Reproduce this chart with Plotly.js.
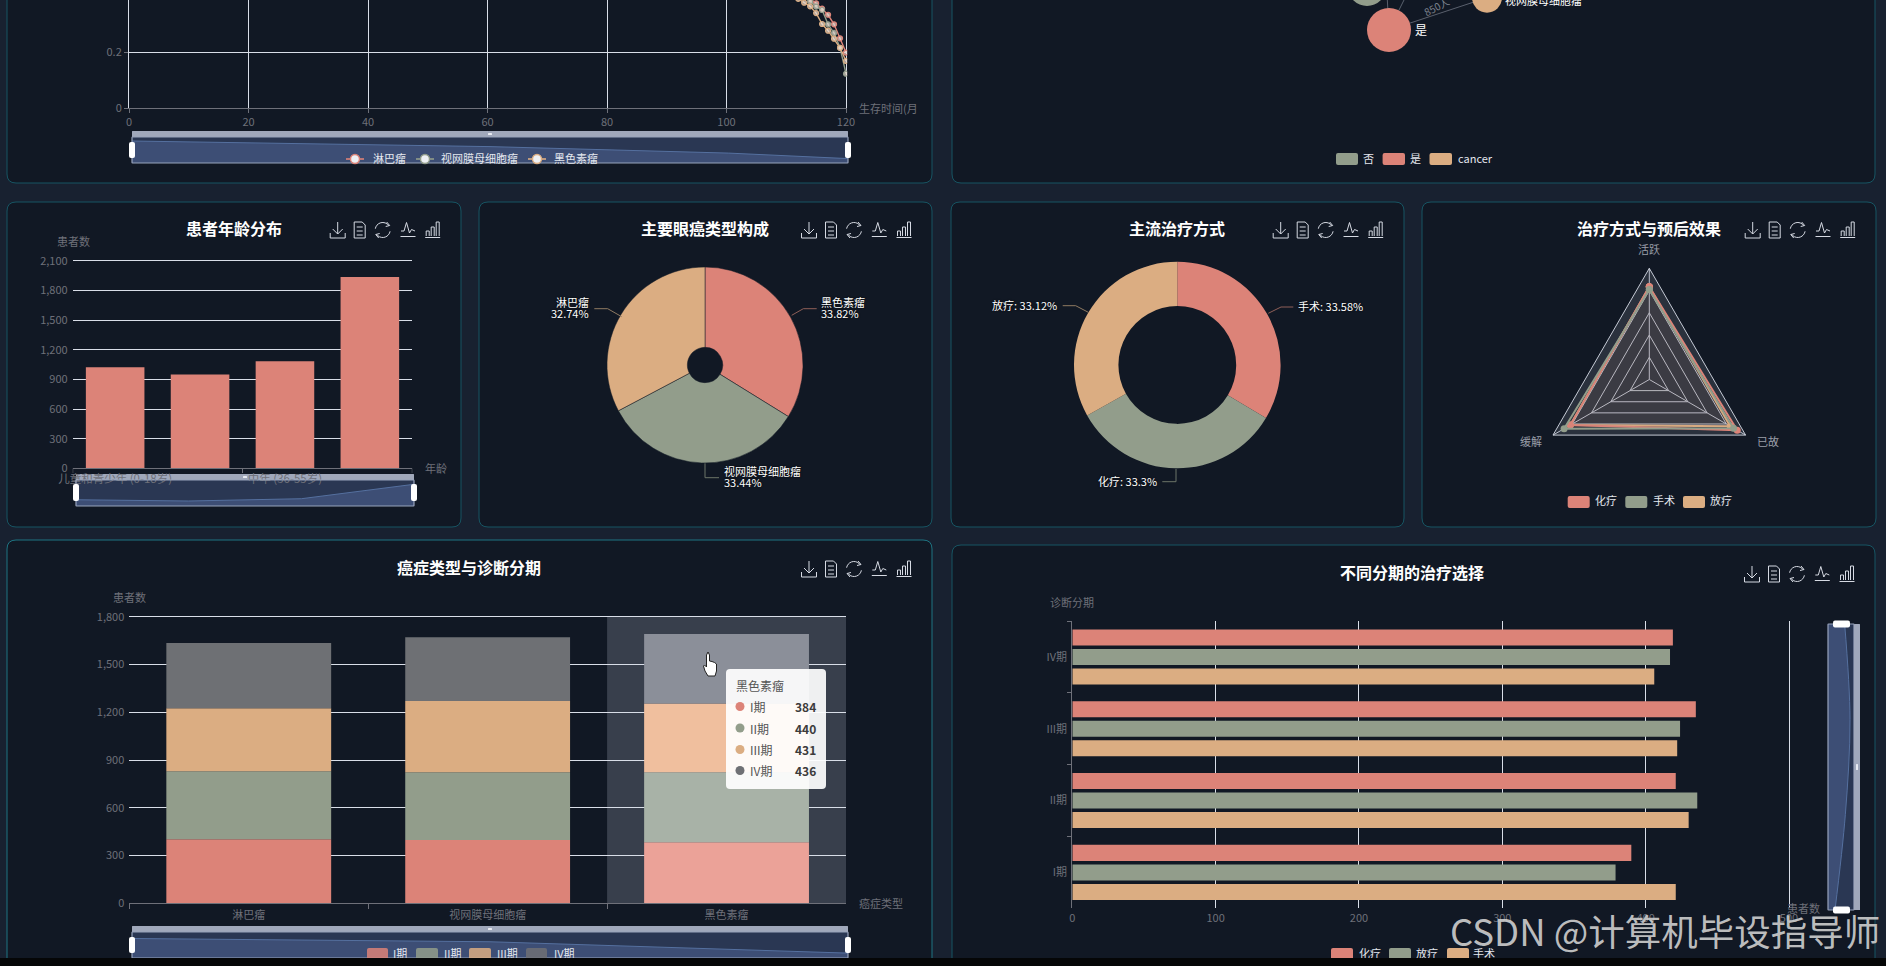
<!DOCTYPE html>
<html><head><meta charset="utf-8">
<script src="https://cdn.plot.ly/plotly-3.0.1.min.js"></script>
<style>html,body{margin:0;padding:0;background:#182130;overflow:hidden}
#g{position:absolute;left:0;top:0;width:1886px;height:966px}
#strip{position:absolute;left:0;top:958px;width:1886px;height:8px;background:#050607}</style>
</head><body><div id="g"></div><div id="strip"></div>
<script>
// ---------- data ----------
const survivalMonths=[112,113,114,115,116,117,118,119,120];
const survivalLymphoma=[0.43,0.41,0.39,0.374,0.355,0.333,0.299,0.249,0.198];
const survivalRetino=[0.42,0.40,0.38,0.362,0.35,0.299,0.268,0.215,0.1225];
const survivalMelanoma=[0.39,0.376,0.363,0.339,0.30,0.276,0.2475,0.215,0.168];
const survivalOverviewX=[0,60,100,110,120];
const survivalOverviewY=[1.0,0.745,0.45,0.33,0.2];

const ageCats=['儿童和青少年 (0-18岁)','青年 (19-35岁)','中年 (36-55岁)','老年 (56岁以上)'];
const ageVals=[1023,949,1084,1938];

const cancerCats=['黑色素瘤','视网膜母细胞瘤','淋巴瘤'];
const cancerPct=[33.82,33.44,32.74];
const treatCats=['手术','化疗','放疗'];
const treatPct=[33.58,33.3,33.12];

const radarAxes=['活跃','已故','缓解'];
const radarChemo=[0.835,0.913,0.82];
const radarSurgery=[0.81,0.875,0.885];
const radarRadio=[0.835,0.84,0.82];

const stageCats=['淋巴瘤','视网膜母细胞瘤','黑色素瘤'];
const stageI=[402,398,384];
const stageII=[427,425,440];
const stageIII=[397,448,431];
const stageIV=[409,400,436];

const choiceCats=['I期','II期','III期','IV期'];
const choiceChemo=[390,421,435,419];
const choiceRadio=[379,436,424,417];
const choiceSurgery=[421,430,422,406];

const nodeNames=['否','是','视网膜母细胞瘤'];
const nodeX=[1367,1389,1487];
const nodeY=[-13,30,-2.3];
const nodeSize=[38,44,30];

// ---------- styles ----------
const RED='#DC8378',GRN='#929D8B',ORG='#DBAD82',GRY='#6E7074';
const TICK='#6E7079',GRID='#D9DEE8',PANEL='#111824',EDGE='#175563';
const FONT='"Noto Sans CJK SC","Noto Sans",sans-serif';
const W=1886,H=966;
const fx=x=>x/W, fy=y=>1-y/H;
const pt=(x,y)=>fx(x)+' '+fy(y);
const shapes=[],annotations=[],traces=[];
const layout={width:W,height:H,margin:{l:0,r:0,t:0,b:0},paper_bgcolor:'#182130',plot_bgcolor:'rgba(0,0,0,0)',
  font:{family:FONT,size:11,color:TICK},showlegend:false,hovermode:false,barmode:'overlay',shapes,annotations};

function addAxes(n,x0,x1,y0,y1,xo,yo){
  const s=n===1?'':n;
  layout['xaxis'+s]=Object.assign({domain:[fx(x0),fx(x1)],anchor:'y'+s,fixedrange:true,zeroline:false,showgrid:false},xo);
  layout['yaxis'+s]=Object.assign({domain:[fy(y1),fy(y0)],anchor:'x'+s,fixedrange:true,zeroline:false,showgrid:false},yo);
}
const hidden=r=>({visible:false,range:r});
function rrect(x0,y0,x1,y1,r,o){
  const d=`M${pt(x0+r,y0)} L${pt(x1-r,y0)} Q${pt(x1,y0)} ${pt(x1,y0+r)} L${pt(x1,y1-r)} Q${pt(x1,y1)} ${pt(x1-r,y1)} L${pt(x0+r,y1)} Q${pt(x0,y1)} ${pt(x0,y1-r)} L${pt(x0,y0+r)} Q${pt(x0,y0)} ${pt(x0+r,y0)} Z`;
  shapes.push(Object.assign({type:'path',xref:'paper',yref:'paper',path:d,layer:'below',line:{width:0}},o));
}
function ann(x,y,text,o,font){
  annotations.push(Object.assign({xref:'paper',yref:'paper',x:fx(x),y:fy(y),text,showarrow:false,xanchor:'center',yanchor:'middle',borderpad:0,
    font:Object.assign({size:11,color:TICK,family:FONT},font||{})},o||{}));
}
function poly(points,color,width,layer,close){
  const d=points.map((p,i)=>(i?'L':'M')+pt(p[0],p[1])).join(' ')+(close?' Z':'');
  shapes.push({type:'path',xref:'paper',yref:'paper',path:d,layer:layer||'above',line:{color,width:width||1}});
}
function card(x0,y0,x1,y1,edge){rrect(x0,y0,x1,y1,9,{fillcolor:PANEL,line:{color:edge||EDGE,width:1}});}
function title(x,y,t){ann(x,y,'<b>'+t+'</b>',{}, {size:16,color:'#FFFFFF'});}
function toolbox(right,y){
  const col='#D6DAE3';
  const at=(cx,list)=>list.forEach(l=>poly(l.map(p=>[cx+p[0],y+p[1]]),col,1));
  at(right-123,[[[0,-8],[0,4]],[[-5,-1],[0,4],[5,-1]],[[-7.5,3],[-7.5,8],[7.5,8],[7.5,3]]]);
  at(right-101,[[[-5.5,-8],[2.5,-8],[5.5,-5],[5.5,8],[-5.5,8],[-5.5,-8]],[[-3,-3],[3,-3]],[[-3,1],[3,1]],[[-3,5],[3,5]]]);
  const arc=(a,b)=>{const o=[];for(let t=a;t<=b;t+=15){o.push([7.5*Math.cos(t*Math.PI/180),7.5*Math.sin(t*Math.PI/180)]);}return o;};
  at(right-78,[arc(190,330),arc(10,150),[[4,-8],[7,-4.5],[3,-3.5]],[[-4,8],[-7,4.5],[-3,3.5]]]);
  at(right-52.7,[[[-7,1],[-4,1],[-1.5,-7.5],[1.5,3],[3.5,-0.5],[7,1]],[[-7.5,6.5],[7.5,6.5]]]);
  at(right-28,[[[-6.5,6],[-6.5,1],[-3.5,1],[-3.5,6]],[[-1.5,6],[-1.5,-3],[1.5,-3],[1.5,6]],[[3.5,6],[3.5,-8],[6.5,-8],[6.5,6]],[[-7.5,7.5],[7.5,7.5]]]);
}
function hSlider(x0,x1,barTop,barBot,boxBot,hTop,hBot){
  rrect(x0,barBot,x1,boxBot,0.5,{fillcolor:'#2A3753'});
  rrect(x0,barTop,x1,barBot,0.5,{fillcolor:'#A0A8BB',layer:'below'});
  rrect(x0,barBot,x1,boxBot,0.5,{fillcolor:'rgba(0,0,0,0)',line:{color:'#98A3BC',width:1.2},layer:'above'});
  const c=(x0+x1)/2;
  rrect(c-2,barTop+2,c+2,barBot-2,0.5,{fillcolor:'#E8EBF2',layer:'above'});
  rrect(x0-3,hTop,x0+3,hBot,2,{fillcolor:'#FFFFFF',layer:'above'});
  rrect(x1-3,hTop,x1+3,hBot,2,{fillcolor:'#FFFFFF',layer:'above'});
}
function swatch(x0,x1,y0,y1,color,op){rrect(x0,y0,x1,y1,2,{fillcolor:color,layer:'above',opacity:op||1});}
function legendText(x,y,t){ann(x,y-1,t,{xanchor:'left'},{color:'#E4E7EE',size:11});}

// ---------- panels ----------
card(7,-20,932,183); card(952,-20,1875,183);
card(7,202,461,527); card(479,202,932,527); card(951,202,1404,527); card(1422,202,1876,527);
card(7,540,932,990,'#1E7482'); card(952,545,1875,990);

// ---------- survival ----------
addAxes(1,129,847.2,0,108,
 {range:[0,120.2],dtick:20,showgrid:true,gridcolor:GRID,gridwidth:1,showline:true,linecolor:TICK,ticks:'outside',ticklen:4,tickcolor:TICK,tickfont:{size:11,color:TICK}},
 {range:[0,108/280],tickvals:[0,0.2],ticktext:['0','0.2'],showgrid:true,gridcolor:GRID,showline:true,linecolor:GRID,ticks:'outside',ticklen:4,tickcolor:TICK,tickfont:{size:11,color:TICK}});
[[survivalLymphoma,RED,'淋巴瘤'],[survivalRetino,GRN,'视网膜母细胞瘤'],[survivalMelanoma,ORG,'黑色素瘤']].forEach(s=>{
  traces.push({type:'scatter',mode:'lines+markers',x:survivalMonths,y:s[0],name:s[2],xaxis:'x',yaxis:'y',
    line:{color:s[1],width:1.4},marker:{size:5,color:'rgba(240,225,215,0.7)',line:{color:s[1],width:1.2}}});
});
ann(858,108,'生存时间(月',{xanchor:'left'});
hSlider(132,848,131,137,163,142,158);
addAxes(2,132,848,137,163,hidden([0,120]),hidden([0,26/22]));
traces.push({type:'scatter',mode:'lines',x:survivalOverviewX,y:survivalOverviewY,xaxis:'x2',yaxis:'y2',fill:'tozeroy',fillcolor:'#3D4E75',line:{color:'#55709F',width:1}});
[[355,RED,371.5,'淋巴瘤'],[425,GRN,440,'视网膜母细胞瘤'],[537,ORG,553,'黑色素瘤']].forEach(l=>{
  poly([[l[0]-9,159],[l[0]+9,159]],l[1],1.6);
  shapes.push({type:'circle',xref:'paper',yref:'paper',x0:fx(l[0]-4.5),x1:fx(l[0]+4.5),y0:fy(159+4.5),y1:fy(159-4.5),fillcolor:'#EEF0F4',line:{color:l[1],width:1.4},layer:'above'});
  legendText(l[2],159,l[3]);
});

// ---------- graph (top right) ----------
addAxes(3,952,1875,0,183,hidden([952,1875]),hidden([183,0]));
const linkX=[nodeX[1],nodeX[2],null,nodeX[1],1384,null,nodeX[1],1424];
const linkY=[nodeY[1],nodeY[2],null,nodeY[1],-60,null,nodeY[1],-40];
traces.push({type:'scatter',mode:'lines',x:linkX,y:linkY,xaxis:'x3',yaxis:'y3',line:{color:'#5A606D',width:1}});
traces.push({type:'scatter',mode:'markers',x:nodeX,y:nodeY,text:nodeNames,xaxis:'x3',yaxis:'y3',
  marker:{size:nodeSize,color:[GRN,RED,ORG],opacity:1,line:{width:0}}});
ann(1421,29,nodeNames[1],{}, {color:'#FFFFFF',size:12});
ann(1503.5,0,nodeNames[2],{xanchor:'left'},{color:'#FFFFFF'});
ann(1436,6,'850人',{textangle:-28},{size:10,color:'#7C818C'});
[[1336,1358,GRN,1362,'否'],[1382.6,1405,RED,1409,'是'],[1429.5,1452,ORG,1457,'cancer']].forEach(l=>{
  swatch(l[0],l[1],153,165,l[2]); legendText(l[3],159,l[4]);
});

// ---------- age ----------
addAxes(4,72.7,412.3,259.8,468.3,
 {type:'category',categoryorder:'array',categoryarray:ageCats,range:[-0.5,3.5],tickvals:[ageCats[0],ageCats[2]],ticks:'',showline:true,linecolor:TICK,tickfont:{size:11.5,color:TICK}},
 {range:[0,2112],dtick:300,tickformat:',',showgrid:true,gridcolor:GRID,ticks:'',ticklabelstandoff:4,tickfont:{size:11,color:TICK}});
traces.push({type:'bar',x:ageCats,y:ageVals,width:0.69,xaxis:'x4',yaxis:'y4',marker:{color:RED,line:{width:0}},opacity:1});
[-0.5,1.5,3.5].forEach(v=>shapes.push({type:'line',xref:'x4',yref:'paper',x0:v,x1:v,y0:fy(468.3),y1:fy(473),line:{color:TICK,width:1},layer:'above'}));
title(233.5,228,'患者年龄分布'); toolbox(460.7,230);
ann(73,241,'患者数'); ann(436,467.7,'年龄');
hSlider(76,414,474,480,506,484,501);
addAxes(5,76,414,480,506,hidden([0,3]),hidden([653,2192]));
traces.push({type:'scatter',mode:'lines',x:[0,1,2,3],y:ageVals,xaxis:'x5',yaxis:'y5',fill:'tozeroy',fillcolor:'#3D4E75',line:{color:'#55709F',width:1}});

// ---------- cancer pie ----------
traces.push({type:'pie',labels:cancerCats,values:cancerPct,sort:false,direction:'clockwise',rotation:0,hole:0.18,textinfo:'none',
  domain:{x:[fx(705-98),fx(705+98)],y:[fy(365+98),fy(365-98)]},marker:{colors:[RED,GRN,ORG],line:{color:PANEL,width:0.5}}});
title(705,228,'主要眼癌类型构成'); toolbox(932,230);
const halo={color:'#FFFFFF',size:11,shadow:'0 0 2px #000'};
ann(820,301.7,cancerCats[0],{xanchor:'left'},halo); ann(820,313,cancerPct[0]+'%',{xanchor:'left'},halo);
ann(723.3,471,cancerCats[1],{xanchor:'left'},halo); ann(723.3,482,cancerPct[1]+'%',{xanchor:'left'},halo);
ann(590,301.7,cancerCats[2],{xanchor:'right'},halo); ann(590,313,cancerPct[2]+'%',{xanchor:'right'},halo);
poly([[816.7,308.7],[803.3,308.7],[791.7,315.3]],'#8F5F58');
poly([[705,463.3],[705,477.7],[719,477.7]],'#6C7468');
poly([[594.3,308.7],[607.7,308.7],[621.7,316.7]],'#8F7A62');

// ---------- treatment donut ----------
traces.push({type:'pie',labels:treatCats,values:treatPct,sort:false,direction:'clockwise',rotation:0,hole:0.57,textinfo:'none',
  domain:{x:[fx(1177.3-103.3),fx(1177.3+103.3)],y:[fy(365+103.3),fy(365-103.3)]},marker:{colors:[RED,GRN,ORG],line:{width:0}}});
title(1177,228,'主流治疗方式'); toolbox(1403.7,230);
ann(1296.7,305.7,treatCats[0]+': '+treatPct[0]+'%',{xanchor:'left'},halo);
ann(1158.3,481,treatCats[1]+': '+treatPct[1]+'%',{xanchor:'right'},halo);
ann(1058.3,305,treatCats[2]+': '+treatPct[2]+'%',{xanchor:'right'},halo);
poly([[1293.3,307],[1281,307],[1268.3,313.3]],'#8F5F58');
poly([[1176,469],[1176,481.7],[1162.3,481.7]],'#6C7468');
poly([[1062.7,305.7],[1075.7,305.7],[1088.3,312.3]],'#8F7A62');

// ---------- radar ----------
layout.polar={domain:{x:[fx(1649.3-111.2),fx(1649.3+111.2)],y:[fy(379.5+111.2),fy(379.5-111.2)]},gridshape:'linear',bgcolor:'rgba(200,205,220,0.14)',
  radialaxis:{range:[0,1],dtick:0.2,showticklabels:false,ticks:'',showline:false,gridcolor:'#B9BECB',gridwidth:1},
  angularaxis:{direction:'clockwise',rotation:90,categoryorder:'array',categoryarray:radarAxes,ticks:'',showticklabels:false,gridcolor:'#B9BECB',linecolor:'#C6CBD6'}};
[[radarRadio,ORG,'rgba(219,173,130,0.04)','放疗'],[radarChemo,RED,'rgba(220,131,120,0.04)','化疗'],[radarSurgery,GRN,'rgba(146,157,139,0.04)','手术']].forEach(s=>{
  traces.push({type:'scatterpolar',mode:'lines+markers',name:s[3],theta:radarAxes.concat(radarAxes[0]),r:s[0].concat(s[0][0]),fill:'toself',fillcolor:s[2],
    line:{color:s[1],width:2},marker:{size:7,color:s[1]}});
});
ann(1649.3,249,radarAxes[0],{}, {color:'#9A9EA8'});
ann(1768.3,440.7,radarAxes[1],{}, {color:'#9A9EA8'});
ann(1531,440.7,radarAxes[2],{}, {color:'#9A9EA8'});
title(1649,228,'治疗方式与预后效果'); toolbox(1875.7,230);
[[1567.7,1589.7,RED,1594,'化疗'],[1625.3,1647.3,GRN,1652,'手术'],[1683,1705,ORG,1709,'放疗']].forEach(l=>{
  swatch(l[0],l[1],496,508,l[2]); legendText(l[3],501,l[4]);
});

// ---------- stage stack ----------
addAxes(6,129.3,846,615.5,903.3,
 {type:'category',categoryorder:'array',categoryarray:stageCats,range:[-0.5,2.5],tickson:'boundaries',ticks:'outside',ticklen:5,tickcolor:TICK,showline:true,linecolor:TICK,ticklabelstandoff:1,tickfont:{size:11,color:TICK}},
 {range:[0,1808],dtick:300,tickformat:',',showgrid:true,gridcolor:GRID,ticks:'',ticklabelstandoff:4,tickfont:{size:11,color:TICK}});
shapes.push({type:'rect',xref:'x6',yref:'paper',x0:1.5,x1:2.5,y0:fy(903.3),y1:fy(616.7),fillcolor:'rgba(150,155,170,0.30)',line:{width:0},layer:'below'});
const stageSeries=[['I期',stageI,RED,'#EBA298'],['II期',stageII,GRN,'#A8B2A7'],['III期',stageIII,ORG,'#F0BF9E'],['IV期',stageIV,GRY,'#8B8F99']];
let stageBase=stageCats.map(()=>0);
stageSeries.forEach(s=>{
  traces.push({type:'bar',name:s[0],x:stageCats,y:s[1],base:stageBase.slice(),width:0.69,xaxis:'x6',yaxis:'y6',opacity:1,
    marker:{color:[s[2],s[2],s[3]],line:{width:0}}});
  stageBase=stageBase.map((b,i)=>b+s[1][i]);
});
title(469,567,'癌症类型与诊断分期'); toolbox(932,569);
ann(129,597,'患者数'); ann(858,903,'癌症类型',{xanchor:'left'});
hSlider(132,848,926,932,958,937,953);
addAxes(7,132,848,932,958,hidden([0,2]),hidden([378,410]));
traces.push({type:'scatter',mode:'lines',x:[0,1,2],y:stageI,xaxis:'x7',yaxis:'y7',fill:'tozeroy',fillcolor:'#3D4E75',line:{color:'#55709F',width:1}});
[[367,388,RED,392,'I期'],[416,438,GRN,443,'II期'],[469,491,ORG,496,'III期'],[526,547,GRY,553,'IV期']].forEach(l=>{
  swatch(l[0],l[1],948,960,l[2],0.85); legendText(l[3],954,l[4]);
});
// tooltip
rrect(726,669,826,789,4,{fillcolor:'rgba(255,255,255,0.92)',layer:'above'});
ann(735,685,stageCats[2],{xanchor:'left'},{size:12,color:'#555'});
stageSeries.forEach((s,i)=>{
  const y=[706.5,728,749.5,770.5][i];
  shapes.push({type:'circle',xref:'paper',yref:'paper',x0:fx(735.5),x1:fx(744.5),y0:fy(y+4.5),y1:fy(y-4.5),fillcolor:s[2],line:{width:0},layer:'above'});
  ann(749,y,s[0],{xanchor:'left'},{size:12,color:'#555'});
  ann(817,y,'<b>'+s[1][2]+'</b>',{xanchor:'right'},{size:12,color:'#3C3C3C'});
});
// cursor
const hand=[[706.5,655],[708,652],[709.5,655],[709.5,661],[712,661.5],[714.5,662.5],[716.5,664],[716.5,671],[715,676],[708,676],[705,671],[703.5,666],[704.5,665],[706.5,667]];
shapes.push({type:'path',xref:'paper',yref:'paper',layer:'above',fillcolor:'#FFFFFF',line:{color:'#222',width:1},
  path:hand.map((p,i)=>(i?'L':'M')+pt(p[0],p[1])).join(' ')+' Z'});

// ---------- treatment by stage ----------
addAxes(8,1072.3,1790.2,621,908.3,
 {range:[0,500.84],dtick:100,showgrid:true,gridcolor:GRID,ticks:'',ticklabelstandoff:2,tickfont:{size:11,color:TICK}},
 {type:'category',categoryorder:'array',categoryarray:choiceCats,range:[-0.5,3.5],tickson:'boundaries',ticks:'outside',ticklen:4,tickcolor:TICK,showline:true,linecolor:TICK,ticklabelstandoff:2,tickfont:{size:11,color:TICK}});
const hbarW=0.223,hbarStep=0.2716;
[[choiceSurgery,ORG,-hbarStep,'手术'],[choiceRadio,GRN,0,'放疗'],[choiceChemo,RED,hbarStep,'化疗']].forEach(s=>{
  traces.push({type:'bar',orientation:'h',name:s[3],x:s[0],y:choiceCats,width:hbarW,offset:s[2]-hbarW/2,xaxis:'x8',yaxis:'y8',opacity:1,marker:{color:s[1],line:{width:0}}});
});
title(1412,572,'不同分期的治疗选择'); toolbox(1875,574);
ann(1072,602,'诊断分期'); ann(1803,908,'患者数');
rrect(1828,624,1854,910,0.5,{fillcolor:'#2A3753'});
addAxes(9,1828,1854,624,910,hidden([369,447]),hidden([0,3]));
traces.push({type:'scatter',mode:'lines',x:choiceChemo,y:[0,1,2,3],xaxis:'x9',yaxis:'y9',fill:'tozerox',fillcolor:'#3D4E75',line:{color:'#55709F',width:1,shape:'spline'}});
rrect(1828,624,1854,910,0.5,{fillcolor:'rgba(0,0,0,0)',line:{color:'#98A3BC',width:1.2},layer:'above'});
rrect(1854,624,1860,910,0.5,{fillcolor:'#A0A8BB',layer:'above'});
rrect(1833,620.5,1850,627.5,2,{fillcolor:'#FFFFFF',layer:'above'});
rrect(1833,906.5,1850,913.5,2,{fillcolor:'#FFFFFF',layer:'above'});
rrect(1856,764,1858,770,0.5,{fillcolor:'#E8EBF2',layer:'above'});
[[1331,1353,RED,1358,'化疗'],[1389,1411,GRN,1415,'放疗'],[1447,1469,ORG,1472,'手术']].forEach(l=>{
  swatch(l[0],l[1],948,960,l[2]); legendText(l[3],954,l[4]);
});
// watermark
ann(1881,930,'CSDN @计算机毕设指导师',{xanchor:'right'},{size:36.5,color:'rgba(205,205,205,0.92)'});

Plotly.newPlot('g',traces,layout,{displayModeBar:false,staticPlot:true});
</script></body></html>
